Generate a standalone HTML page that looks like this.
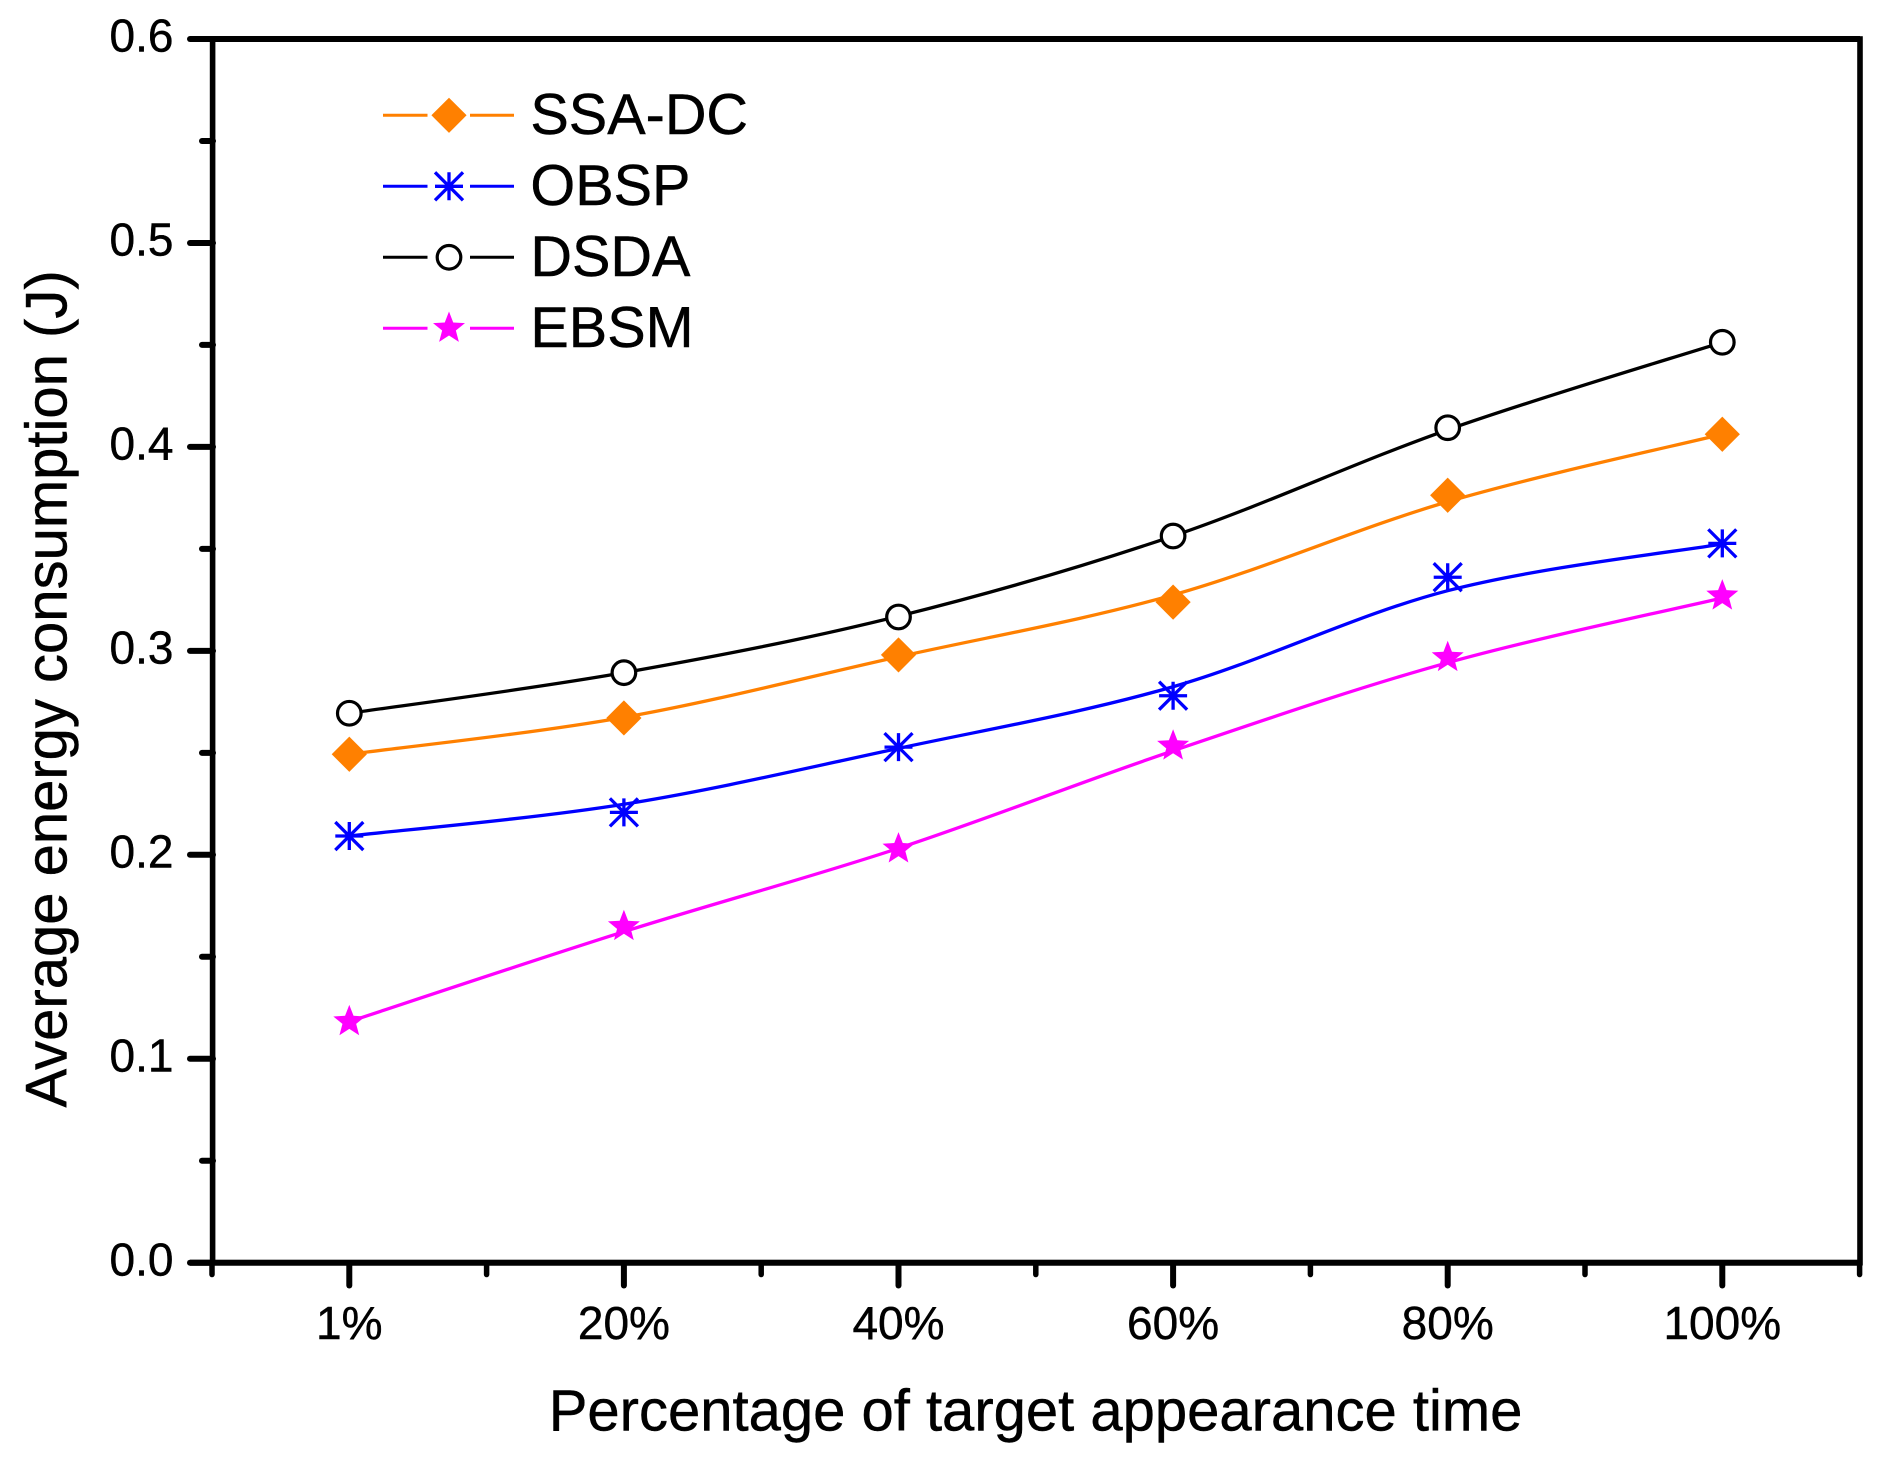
<!DOCTYPE html>
<html lang="en">
<head>
<meta charset="utf-8">
<title>Average energy consumption chart</title>
<style>
html,body{margin:0;padding:0;background:#fff;}
svg{display:block;}
text{font-family:"Liberation Sans",Arial,sans-serif;fill:#000;stroke:#000;stroke-width:0.45px;}
</style>
</head>
<body>
<svg id="chart" xmlns="http://www.w3.org/2000/svg" width="1882" height="1460" viewBox="0 0 1882 1460">
  <rect x="0" y="0" width="1882" height="1460" fill="#ffffff"/>
  <g id="ticks"></g>
  <rect x="212.6" y="39" width="1647.4" height="1223.7" fill="none" stroke="#000" stroke-width="5.6"/>
  <line x1="190" y1="39" x2="1860" y2="39" stroke="#000" stroke-width="6"/>
  <line x1="190" y1="1262.7" x2="1860" y2="1262.7" stroke="#000" stroke-width="6"/>
  <g id="series"></g>
  <g id="legend"></g>
  <text transform="translate(66.5,1107.5) rotate(-90)" font-size="58">Average energy consumption (J)</text>
  <text x="548.7" y="1430.5" font-size="58">Percentage of target appearance time</text>
</svg>
<script>
const categories = ['1%', '20%', '40%', '60%', '80%', '100%'];
const yTickLabels = ['0.0', '0.1', '0.2', '0.3', '0.4', '0.5', '0.6'];
const seriesNames = ['SSA-DC', 'OBSP', 'DSDA', 'EBSM'];

const ssaMarkers = [0.2493, 0.2671, 0.2980, 0.3239, 0.3763, 0.4062];
const obspMarkers = [0.2092, 0.2208, 0.2528, 0.2780, 0.3361, 0.3527];
const dsdaMarkers = [0.2694, 0.2893, 0.3166, 0.3563, 0.4094, 0.4513];
const ebsmMarkers = [0.1182, 0.1648, 0.2029, 0.2533, 0.2967, 0.3269];

const ssaCurve = [0.2493, 0.2674, 0.2971, 0.3274, 0.3731, 0.4062];
const obspCurve = [0.2092, 0.2248, 0.2522, 0.2824, 0.3295, 0.3524];
const dsdaCurve = [0.2694, 0.2893, 0.3170, 0.3563, 0.4084, 0.4513];
const ebsmCurve = [0.1182, 0.1623, 0.2032, 0.2510, 0.2942, 0.3259];

const NS = 'http://www.w3.org/2000/svg';

function xScale(i) { return 349.3 + 274.6 * i; }
function yScale(v) { return 1262.7 - v * 2039.5; }

function make(tag, attrs, parent) {
  const node = document.createElementNS(NS, tag);
  for (const k in attrs) node.setAttribute(k, attrs[k]);
  parent.appendChild(node);
  return node;
}

function curvePath(values) {
  const pts = values.map((v, i) => [xScale(i), yScale(v)]);
  let d = 'M' + pts[0][0] + ' ' + pts[0][1];
  for (let i = 0; i < pts.length - 1; i++) {
    const p0 = pts[Math.max(0, i - 1)];
    const p1 = pts[i];
    const p2 = pts[i + 1];
    const p3 = pts[Math.min(pts.length - 1, i + 2)];
    const c1x = p1[0] + (p2[0] - p0[0]) / 6;
    const c1y = p1[1] + (p2[1] - p0[1]) / 6;
    const c2x = p2[0] - (p3[0] - p1[0]) / 6;
    const c2y = p2[1] - (p3[1] - p1[1]) / 6;
    d += ' C' + c1x + ' ' + c1y + ' ' + c2x + ' ' + c2y + ' ' + p2[0] + ' ' + p2[1];
  }
  return d;
}

function drawDiamond(cx, cy, parent) {
  const s = 17.6;
  return make('polygon', {
    points: [cx, cy - s, cx + s, cy, cx, cy + s, cx - s, cy].join(' '),
    fill: '#ff8000'
  }, parent);
}

function drawAsterisk(cx, cy, parent) {
  const s = 14;
  const d = 'M' + (cx - s) + ' ' + cy + 'H' + (cx + s) +
    'M' + cx + ' ' + (cy - s) + 'V' + (cy + s) +
    'M' + (cx - s) + ' ' + (cy - s) + 'L' + (cx + s) + ' ' + (cy + s) +
    'M' + (cx - s) + ' ' + (cy + s) + 'L' + (cx + s) + ' ' + (cy - s);
  return make('path', { d: d, fill: 'none', stroke: '#0000ff', 'stroke-width': 3.3 }, parent);
}

function drawCircle(cx, cy, parent) {
  return make('circle', { cx: cx, cy: cy, r: 11.8, fill: '#ffffff', stroke: '#000000', 'stroke-width': 3.2 }, parent);
}

function drawStar(cx, cy, parent) {
  const outer = 16.8;
  const inner = 7.2;
  const pts = [];
  for (let k = 0; k < 10; k++) {
    const r = k % 2 === 0 ? outer : inner;
    const a = -Math.PI / 2 + k * Math.PI / 5;
    pts.push(cx + r * Math.cos(a), cy + r * Math.sin(a));
  }
  return make('polygon', { points: pts.join(' '), fill: '#ff00ff' }, parent);
}

/* axis ticks and tick labels */
const ticksGroup = document.getElementById('ticks');

yTickLabels.forEach(function (label) {
  const v = parseFloat(label);
  const y = yScale(v);
  const tick = make('line', { x1: 190, y1: y, x2: 213, y2: y, stroke: '#000', 'stroke-width': 6, 'stroke-linecap': 'round' }, ticksGroup);
  
  
  const text = make('text', { x: 173.5, y: y + 12.6, 'font-size': 46, 'text-anchor': 'end' }, ticksGroup);
  text.textContent = label;
  
  
});

for (let i = 0; i < yTickLabels.length - 1; i++) {
  const y = (yScale(parseFloat(yTickLabels[i])) + yScale(parseFloat(yTickLabels[i + 1]))) / 2;
  const minor = make('line', { x1: 202, y1: y, x2: 213, y2: y, stroke: '#000', 'stroke-width': 6, 'stroke-linecap': 'round' }, ticksGroup);
  
  
}

categories.forEach(function (label, i) {
  const x = xScale(i);
  const tick = make('line', { x1: x, y1: 1263, x2: x, y2: 1285.5, stroke: '#000', 'stroke-width': 6, 'stroke-linecap': 'round' }, ticksGroup);
  
  
  const text = make('text', { x: x, y: 1338.8, 'font-size': 46, 'text-anchor': 'middle' }, ticksGroup);
  text.textContent = label;
  
  
});

for (let i = -1; i < categories.length; i++) {
  const x = xScale(i + 0.5);
  const minor = make('line', { x1: x, y1: 1263, x2: x, y2: 1274.5, stroke: '#000', 'stroke-width': 5.5, 'stroke-linecap': 'round' }, ticksGroup);
  
  
}

/* series */
const seriesGroup = document.getElementById('series');

function drawSeries(curve, markers, color, drawMarker) {
  const group = make('g', {}, seriesGroup);
  const line = make('path', { d: curvePath(curve), fill: 'none', stroke: color, 'stroke-width': 3.3 }, group);
  
  
  markers.forEach(function (v, i) {
    const mark = drawMarker(xScale(i), yScale(v), group);
    
    
  });
  return group;
}

const ssaGroup = drawSeries(ssaCurve, ssaMarkers, '#ff8000', drawDiamond);


const obspGroup = drawSeries(obspCurve, obspMarkers, '#0000ff', drawAsterisk);


const dsdaGroup = drawSeries(dsdaCurve, dsdaMarkers, '#000000', drawCircle);


const ebsmGroup = drawSeries(ebsmCurve, ebsmMarkers, '#ff00ff', drawStar);



/* legend */
const legendGroup = document.getElementById('legend');
const legendColors = ['#ff8000', '#0000ff', '#000000', '#ff00ff'];
const legendMarkers = [drawDiamond, drawAsterisk, drawCircle, drawStar];

seriesNames.forEach(function (name, i) {
  const y = 115.3 + i * 71;
  const entry = make('g', {}, legendGroup);
  
  
  const left = make('line', { x1: 383, y1: y, x2: 427.5, y2: y, stroke: legendColors[i], 'stroke-width': 3 }, entry);
  
  
  const right = make('line', { x1: 470, y1: y, x2: 514, y2: y, stroke: legendColors[i], 'stroke-width': 3 }, entry);
  
  
  const mark = legendMarkers[i](449, y, entry);
  
  
  const text = make('text', { x: 530.4, y: y + 18.6, 'font-size': 57.6 }, entry);
  text.textContent = name;
  
  
});
</script>
</body>
</html>
